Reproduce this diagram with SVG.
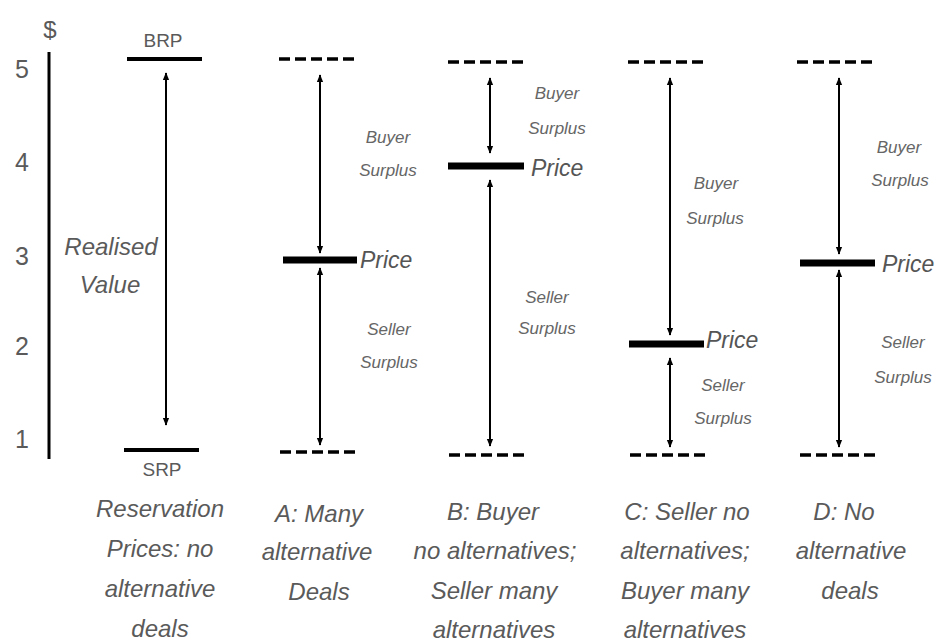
<svg xmlns="http://www.w3.org/2000/svg" width="935" height="644" viewBox="0 0 935 644">
<style>
.lbl{font-family:"Liberation Sans",Arial,sans-serif;fill:#5a5a5a}
.num{font-size:25px;text-anchor:middle}
.it{font-style:italic}
.sm{font-size:17px;text-anchor:middle;fill:#666}
.big{font-size:24px;text-anchor:middle}
.price{font-size:23px;fill:#555}
.dash{stroke:#000;stroke-width:3.5;stroke-dasharray:11 5;fill:none}
.bar{stroke:#000;stroke-width:7;fill:none}
.ln{stroke:#000;stroke-width:4;fill:none}
.arr{stroke:#000;stroke-width:2;fill:none;marker-start:url(#ah);marker-end:url(#ah)}
</style>
<defs>
<marker id="ah" viewBox="0 0 10 10" refX="9" refY="5" markerWidth="4" markerHeight="4" orient="auto-start-reverse" markerUnits="strokeWidth">
<path d="M0,1 L10,5 L0,9 z" fill="#000"/>
</marker>
</defs>
<rect width="935" height="644" fill="#fff"/>
<g id="axis">
<line x1="49" y1="52" x2="49" y2="459" stroke="#000" stroke-width="3"/>
<text class="lbl" x="50" y="38" font-size="24" text-anchor="middle">$</text>
<text class="lbl num" x="22" y="78">5</text>
<text class="lbl num" x="22" y="171">4</text>
<text class="lbl num" x="22" y="265">3</text>
<text class="lbl num" x="22" y="355">2</text>
<text class="lbl num" x="22" y="448">1</text>
</g>
<g id="connectors">
<line class="arr" x1="166" y1="73" x2="166" y2="425"/>
<line class="arr" x1="320" y1="75" x2="320" y2="253"/>
<line class="arr" x1="320" y1="268" x2="320" y2="445"/>
<line class="arr" x1="490" y1="78" x2="490" y2="153"/>
<line class="arr" x1="490" y1="180" x2="490" y2="446"/>
<line class="arr" x1="670" y1="78" x2="670" y2="335"/>
<line class="arr" x1="670" y1="358" x2="670" y2="447"/>
<line class="arr" x1="839" y1="78" x2="839" y2="254"/>
<line class="arr" x1="839" y1="270" x2="839" y2="447"/>
</g>
<g id="reservation">
<line class="ln" x1="127" y1="59" x2="202" y2="59"/>
<text class="lbl" x="163" y="47" font-size="19" text-anchor="middle">BRP</text>
<line class="ln" x1="124" y1="450" x2="199" y2="450"/>
<text class="lbl" x="162" y="476" font-size="19" text-anchor="middle">SRP</text>
<text class="lbl it big" x="111" y="255">Realised</text>
<text class="lbl it big" x="110" y="293">Value</text>
<text class="lbl it big" x="160" y="517">Reservation</text>
<text class="lbl it big" x="160" y="557">Prices: no</text>
<text class="lbl it big" x="160" y="597">alternative</text>
<text class="lbl it big" x="160" y="637">deals</text>
</g>
<g id="colA">
<line class="dash" x1="279" y1="59" x2="356" y2="59"/>
<line class="dash" x1="280" y1="452" x2="357" y2="452"/>
<line class="bar" x1="283" y1="260" x2="357" y2="260"/>
<text class="lbl it price" x="360" y="268">Price</text>
<text class="lbl it sm" x="388" y="143">Buyer</text>
<text class="lbl it sm" x="388" y="176">Surplus</text>
<text class="lbl it sm" x="389" y="335">Seller</text>
<text class="lbl it sm" x="389" y="368">Surplus</text>
<text class="lbl it big" x="319" y="522">A: Many</text>
<text class="lbl it big" x="317" y="560">alternative</text>
<text class="lbl it big" x="319" y="600">Deals</text>
</g>
<g id="colB">
<line class="dash" x1="448" y1="62" x2="525" y2="62"/>
<line class="dash" x1="449" y1="455" x2="525" y2="455"/>
<line class="bar" x1="448" y1="166" x2="524" y2="166"/>
<text class="lbl it price" x="531" y="176">Price</text>
<text class="lbl it sm" x="557" y="99">Buyer</text>
<text class="lbl it sm" x="557" y="134">Surplus</text>
<text class="lbl it sm" x="547" y="303">Seller</text>
<text class="lbl it sm" x="547" y="334">Surplus</text>
<text class="lbl it big" x="493" y="520">B: Buyer</text>
<text class="lbl it big" x="495" y="559">no alternatives;</text>
<text class="lbl it big" x="494" y="599">Seller many</text>
<text class="lbl it big" x="494" y="638">alternatives</text>
</g>
<g id="colC">
<line class="dash" x1="628" y1="62" x2="705" y2="62"/>
<line class="dash" x1="630" y1="455" x2="706" y2="455"/>
<line class="bar" x1="629" y1="344" x2="704" y2="344"/>
<text class="lbl it price" x="706" y="348">Price</text>
<text class="lbl it sm" x="716" y="189">Buyer</text>
<text class="lbl it sm" x="715" y="224">Surplus</text>
<text class="lbl it sm" x="723" y="391">Seller</text>
<text class="lbl it sm" x="723" y="424">Surplus</text>
<text class="lbl it big" x="687" y="520">C: Seller no</text>
<text class="lbl it big" x="685" y="559">alternatives;</text>
<text class="lbl it big" x="685" y="599">Buyer many</text>
<text class="lbl it big" x="685" y="638">alternatives</text>
</g>
<g id="colD">
<line class="dash" x1="797" y1="62" x2="875" y2="62"/>
<line class="dash" x1="800" y1="455" x2="876" y2="455"/>
<line class="bar" x1="800" y1="263" x2="875" y2="263"/>
<text class="lbl it price" x="882" y="272">Price</text>
<text class="lbl it sm" x="899" y="153">Buyer</text>
<text class="lbl it sm" x="900" y="186">Surplus</text>
<text class="lbl it sm" x="903" y="348">Seller</text>
<text class="lbl it sm" x="903" y="383">Surplus</text>
<text class="lbl it big" x="844" y="520">D: No</text>
<text class="lbl it big" x="851" y="559">alternative</text>
<text class="lbl it big" x="850" y="599">deals</text>
</g>
</svg>
